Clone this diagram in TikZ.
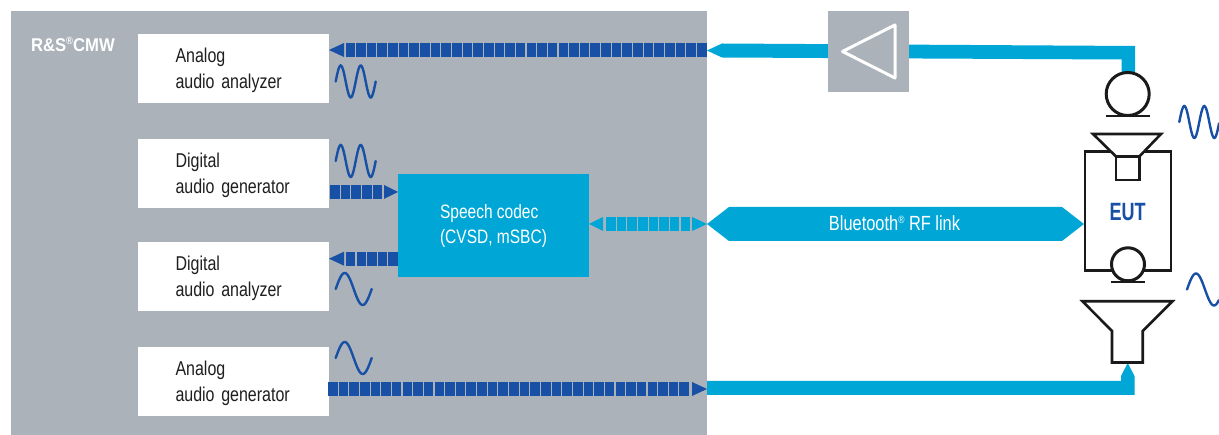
\documentclass[tikz,border=0pt]{standalone}
\usepackage{fontspec}
\setmainfont[FakeStretch=0.8]{Liberation Sans}
\newfontfamily\boldwide[FakeStretch=0.9]{Liberation Sans Bold}
\newfontfamily\boldnarrow[FakeStretch=0.72]{Liberation Sans Bold}
\usetikzlibrary{calc}
\definecolor{panelgray}{HTML}{ABB2B9}
\definecolor{rscyan}{HTML}{00A6D6}
\definecolor{rsblue}{HTML}{1750A5}
\definecolor{ink}{HTML}{1A1A1A}
\newcommand{\rsreg}{\raisebox{.38em}{\fontsize{10.5}{11}\selectfont ®}}
\tikzset{
  x=1pt,y=-1pt,
  every node/.style={inner sep=0pt,outer sep=0pt},
  panel/.style={fill=panelgray,anchor=north west},
  blockbox/.style={fill=white,minimum width=191pt,minimum height=69pt,text width=116pt,align=left,anchor=north west,font=\fontsize{20}{26}\selectfont,text=black!88,execute at begin node={\rule{0pt}{19pt}}},
  codecbox/.style={fill=rscyan,minimum width=191pt,minimum height=103pt,align=left,anchor=north west,font=\fontsize{19.4}{25}\selectfont,text=white,execute at begin node={\rule{0pt}{17pt}}},
  ampbox/.style={fill=panelgray,minimum width=81pt,minimum height=81pt,anchor=north west},
  squaresdark/.style={draw=rsblue,line width=14pt,dash pattern=on 9.55pt off 1.1pt},
  squareslight/.style={draw=rscyan,line width=14pt,dash pattern=on 9.55pt off 1.1pt},
  headdark/.style={fill=rsblue},
  headlight/.style={fill=rscyan},
  wire/.style={fill=rscyan},
  wave/.style={draw=rsblue,line width=2.4pt,line cap=round},
  outline/.style={draw=ink,line width=2.6pt,line join=miter},
}
\newcommand{\wavecurve}[5]{% x0, yc, period, amp, max degrees
  \draw[wave] plot[smooth,domain=0:#5,samples=50] ({#1+\x/360*#3},{#2-#4*sin(\x)});}
\begin{document}
\begin{tikzpicture}
\useasboundingbox (0,0) rectangle (1219,435);
% panel
\node[panel,minimum width=696pt,minimum height=424pt] (cmw) at (11,11) {};
\node[anchor=base west,text=white,font=\boldwide\fontsize{18.5}{20}\selectfont] (cmwlabel) at (31,52) {R\&S\rsreg{}CMW};
% blocks
\node[blockbox] (aana) at (138,34) {Analog\\audio analyzer};
\node[blockbox] (dgen) at (138,139) {Digital\\audio generator};
\node[blockbox] (dana) at (138,242) {Digital\\audio analyzer};
\node[blockbox] (agen) at (138,347) {Analog\\audio generator};
\node[codecbox] (codec) at (398,174) {Speech codec\\(CVSD, mSBC)};
% coordinates at the panel's right edge
\coordinate (eTop) at (707,50.5);
\coordinate (eRf) at (707,224);
\coordinate (eBot) at (707,389);
% top path: amplifier to analyser
\coordinate (micIn) at (1128,72);
\fill[wire] (eTop) -- ++(15,-7) -- (1135,46) -- (micIn -| 1135,0) -- (micIn -| 1121.5,0) -- (1121.5,59.5) -- (722,57.5) -- cycle;
\node[ampbox] (amp) at (828,11) {};
\draw[white,line width=3pt,line join=round] (842.5,51.5) -- (895,25) -- (895,78) -- cycle;
\draw[squaresdark] (706.5,50) -- (345.5,50);
\fill[headdark] (aana.east |- 0,50) -- ++(15,-7) -- ++(0,14) -- cycle;
% digital generator to codec
\draw[squaresdark] (330,192) -- (382,192);
\fill[headdark] (codec.west |- 0,192) -- ++(-14,-7) -- ++(0,14) -- cycle;
% codec to digital analyzer
\draw[squaresdark] (398,258.7) -- (346,258.7);
\fill[headdark] (dana.east |- 0,258.7) -- ++(15,-7) -- ++(0,14) -- cycle;
% codec to RF link
\draw[squareslight] (606,224) -- (689.5,224);
\fill[headlight] (codec.east |- eRf) -- ++(14,-7) -- ++(0,14) -- cycle;
\fill[headlight] (eRf) -- ++(-15,-7) -- ++(0,14) -- cycle;
% RF link
\coordinate (eutL) at (1084,224);
\fill[wire] (eRf) -- (729,207) -- (1062,207) -- (eutL) -- (1062,241) -- (729,241) -- cycle;
\node[anchor=base,text=white,font=\fontsize{20.5}{24}\selectfont] (rflabel) at (894.5,231) {Bluetooth\rsreg{} RF link};
% bottom path
\draw[squaresdark] (328,389) -- (690,389);
\fill[headdark] (eBot) -- ++(-15,-7) -- ++(0,14) -- cycle;
\coordinate (spkIn) at (1127.7,363);
\fill[wire] (eBot |- 0,381) -- (1121,381) -- (1121,376) -- (spkIn) -- (1134.5,376) -- (1134.5,395) -- (eBot |- 0,395) -- cycle;
% test microphone
\node[draw=ink,line width=3pt,circle,minimum size=43pt,fill=white] (mic1) at (1127.7,94) {};
\draw[ink,line width=2pt] (1106,116.3) -- (1150,116.3);
% EUT body
\draw[outline] (1085,155) -- (1085,270.3) -- (1171,270.3) -- (1171,151.8) -- (1141,151.8);
\draw[outline] (1085,151.8) -- (1114,151.8);
\draw[outline] (1085,150.5) -- (1085,156);
% EUT speaker
\draw[outline,fill=white] (1093,134) -- (1161,134) -- (1139.3,156.5) -- (1116,156.5) -- cycle;
\draw[outline] (1116,156.5) rectangle (1139.3,180);
\node[anchor=base,text=rsblue,font=\boldnarrow\fontsize{25}{28}\selectfont] (eut) at (1127.7,220.5) {EUT};
% EUT microphone
\node[draw=ink,line width=3pt,circle,minimum size=33pt,fill=white] (mic2) at (1128,264.3) {};
\draw[ink,line width=2pt] (1110.5,282) -- (1145,282);
% artificial mouth
\draw[outline] (1082.5,301.3) -- (1172.5,301.3) -- (1142.7,331) -- (1142.7,362.5) -- (1112,362.5) -- (1112,331) -- cycle;
% waves
\wavecurve{335.7}{81.5}{20}{16}{720}
\wavecurve{335.7}{161}{20}{16}{720}
\wavecurve{335.7}{289}{36}{16}{360}
\wavecurve{335.7}{358}{36}{16}{360}
\wavecurve{1179.3}{122}{20}{16}{715}
\wavecurve{1187}{289.5}{36}{16}{318}
\end{tikzpicture}
\end{document}
